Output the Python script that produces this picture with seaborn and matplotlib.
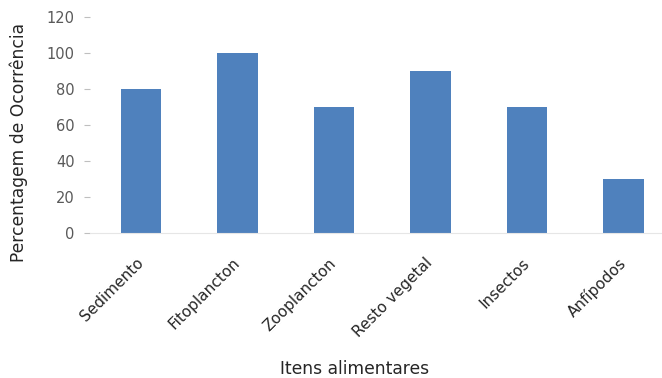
import matplotlib
matplotlib.use('Agg')
import matplotlib.pyplot as plt
import pandas as pd
import seaborn as sns

itens = ['Sedimento', 'Fitoplancton', 'Zooplancton', 'Resto vegetal', 'Insectos', 'Anfípodos']
ocorrencia = [80, 100, 70, 90, 70, 30]

df = pd.DataFrame({'item': itens, 'pct': ocorrencia})

sns.set_style('white')
plt.rcParams['font.family'] = ['DejaVu Sans']

fig = plt.figure(figsize=(6.62, 3.78), dpi=100)
ax = fig.add_axes([90 / 662, (378 - 233) / 378, 572 / 662, 216 / 378])

sns.barplot(data=df, x='item', y='pct', color='#4F81BD', width=0.42,
            saturation=1, linewidth=0, ax=ax)

ax.set_xlim(-0.53, 5.40)
ax.set_ylim(0, 120)
ax.set_yticks(range(0, 121, 20))
for s in ['top', 'right', 'left']:
    ax.spines[s].set_visible(False)
ax.spines['bottom'].set_color('#e6e6e6')
ax.tick_params(axis='y', length=4, color='#bfbfbf', labelcolor='#595959',
               labelsize=10.5, pad=7, left=True)
ax.tick_params(axis='x', length=0, labelsize=11, labelcolor='#262626', pad=20)
plt.setp(ax.get_xticklabels(), rotation=45, ha='right', va='center',
         rotation_mode='anchor')

ax.set_xlabel('Itens alimentares', fontsize=12.3, color='#262626')
ax.set_ylabel('Percentagem de Ocorrência', fontsize=12.3, color='#262626')
ax.xaxis.set_label_coords(0.463, -0.63)
ax.xaxis.label.set_va('center')
ax.yaxis.set_label_coords(-0.124, 0.417)
ax.yaxis.label.set_va('center')

fig.savefig('out.png', dpi=100)
